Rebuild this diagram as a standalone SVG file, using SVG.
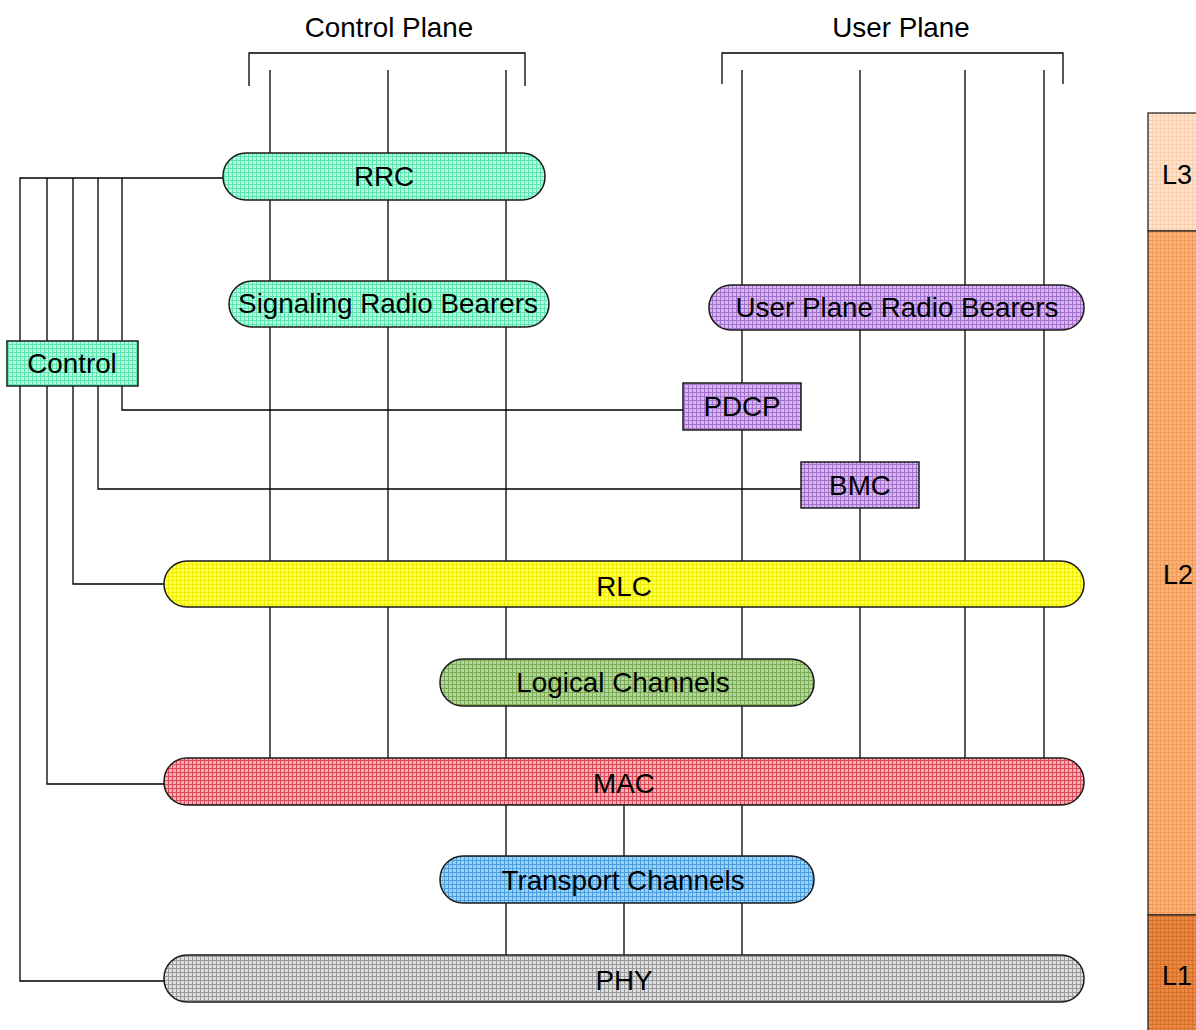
<svg xmlns="http://www.w3.org/2000/svg" width="1196" height="1030" viewBox="0 0 1196 1030">
<defs>
<pattern id="pMint" patternUnits="userSpaceOnUse" width="4" height="4"><rect width="4" height="4" fill="#b8f6de"/><path d="M0 0.5H4M0.5 0V4" stroke="#5ae6b0" stroke-width="1"/></pattern>
<pattern id="pPurple" patternUnits="userSpaceOnUse" width="4" height="4"><rect width="4" height="4" fill="#d6b8ea"/><path d="M0 0.5H4M0.5 0V4" stroke="#a070cc" stroke-width="1"/></pattern>
<pattern id="pYellow" patternUnits="userSpaceOnUse" width="4" height="4"><rect width="4" height="4" fill="#ffff55"/><path d="M0 0.5H4M0.5 0V4" stroke="#f0ee00" stroke-width="1"/></pattern>
<pattern id="pGreen" patternUnits="userSpaceOnUse" width="4" height="4"><rect width="4" height="4" fill="#b4d69a"/><path d="M0 0.5H4M0.5 0V4" stroke="#7aac58" stroke-width="1"/></pattern>
<pattern id="pRed" patternUnits="userSpaceOnUse" width="4" height="4"><rect width="4" height="4" fill="#f2b0b4"/><path d="M0 0.5H4M0.5 0V4" stroke="#dc4a58" stroke-width="1"/></pattern>
<pattern id="pBlue" patternUnits="userSpaceOnUse" width="4" height="4"><rect width="4" height="4" fill="#9cd0f4"/><path d="M0 0.5H4M0.5 0V4" stroke="#4a9ee0" stroke-width="1"/></pattern>
<pattern id="pGray" patternUnits="userSpaceOnUse" width="4" height="4"><rect width="4" height="4" fill="#dedede"/><path d="M0 0.5H4M0.5 0V4" stroke="#9a9a9a" stroke-width="1"/></pattern>
<pattern id="pL3" patternUnits="userSpaceOnUse" width="4" height="4"><rect width="4" height="4" fill="#fde4d0"/><path d="M0 0.5H4M0.5 0V4" stroke="#f9cfae" stroke-width="1"/></pattern>
<pattern id="pL2" patternUnits="userSpaceOnUse" width="4" height="4"><rect width="4" height="4" fill="#f8b27c"/><path d="M0 0.5H4M0.5 0V4" stroke="#f09a58" stroke-width="1"/></pattern>
<pattern id="pL1" patternUnits="userSpaceOnUse" width="4" height="4"><rect width="4" height="4" fill="#e88a44"/><path d="M0 0.5H4M0.5 0V4" stroke="#d8702a" stroke-width="1"/></pattern>
</defs>
<style>
.ln{stroke:#000;stroke-width:1.3;fill:none}
.nd{stroke:#1a1a1a;stroke-width:1.5}
.t{font-family:"Liberation Sans",Arial,sans-serif;font-size:27.8px;fill:#000;text-anchor:middle;dominant-baseline:central}
.lt{font-family:"Liberation Sans",Arial,sans-serif;font-size:27px;fill:#000;dominant-baseline:central}
</style>
<rect width="1196" height="1030" fill="#fff"/>

<g id="headers">
<text class="t" x="389" y="27">Control Plane</text>
<path class="ln" d="M249 86V53H525V86"/>
<text class="t" x="901" y="27">User Plane</text>
<path class="ln" d="M722 84V53H1063V84"/>
</g>

<g id="connectors">
<path class="ln" d="M270 70V758M388 70V758M506 70V758"/>
<path class="ln" d="M742 70V758M860 70V758M965 70V758M1044 70V758"/>
<path class="ln" d="M506 805V956M624 805V956M742 805V956"/>
<path class="ln" d="M223 178H20V981H164"/>
<path class="ln" d="M47 178V784H164"/>
<path class="ln" d="M73 178V584H164"/>
<path class="ln" d="M98 178V489H801"/>
<path class="ln" d="M122 178V410H683"/>
</g>

<g id="rrc"><rect class="nd" x="223" y="153" width="322" height="47" rx="23" fill="url(#pMint)"/><text class="t" x="384" y="176">RRC</text></g>
<g id="srb"><rect class="nd" x="229" y="281" width="320" height="46" rx="23" fill="url(#pMint)"/><text class="t" x="388" y="303">Signaling Radio Bearers</text></g>
<g id="uprb"><rect class="nd" x="709" y="285" width="375" height="45" rx="22" fill="url(#pPurple)"/><text class="t" x="897" y="307">User Plane Radio Bearers</text></g>
<g id="control"><rect class="nd" x="7" y="341" width="131" height="45" fill="url(#pMint)"/><text class="t" x="72" y="363">Control</text></g>
<g id="pdcp"><rect class="nd" x="683" y="383" width="118" height="47" fill="url(#pPurple)"/><text class="t" x="742" y="406">PDCP</text></g>
<g id="bmc"><rect class="nd" x="801" y="462" width="118" height="46" fill="url(#pPurple)"/><text class="t" x="860" y="485">BMC</text></g>
<g id="rlc"><rect class="nd" x="164" y="561" width="920" height="46" rx="23" fill="url(#pYellow)"/><text class="t" x="624" y="586">RLC</text></g>
<g id="logical"><rect class="nd" x="440" y="659" width="374" height="47" rx="23" fill="url(#pGreen)"/><text class="t" x="623" y="682">Logical Channels</text></g>
<g id="mac"><rect class="nd" x="164" y="758" width="920" height="47" rx="23" fill="url(#pRed)"/><text class="t" x="624" y="783">MAC</text></g>
<g id="transport"><rect class="nd" x="440" y="856" width="374" height="47" rx="23" fill="url(#pBlue)"/><text class="t" x="623" y="880">Transport Channels</text></g>
<g id="phy"><rect class="nd" x="164" y="955" width="920" height="47" rx="23" fill="url(#pGray)"/><text class="t" x="624" y="980">PHY</text></g>

<g id="layers">
<rect x="1148" y="113" width="60" height="118" fill="url(#pL3)" stroke="#2a2a2a" stroke-width="1.3"/>
<rect x="1148" y="231" width="60" height="684" fill="url(#pL2)" stroke="#2a2a2a" stroke-width="1.3"/>
<rect x="1148" y="915" width="60" height="120" fill="url(#pL1)" stroke="#2a2a2a" stroke-width="1.3"/>
<text class="lt" x="1162" y="175">L3</text>
<text class="lt" x="1163" y="575">L2</text>
<text class="lt" x="1162" y="976">L1</text>
</g>
</svg>
